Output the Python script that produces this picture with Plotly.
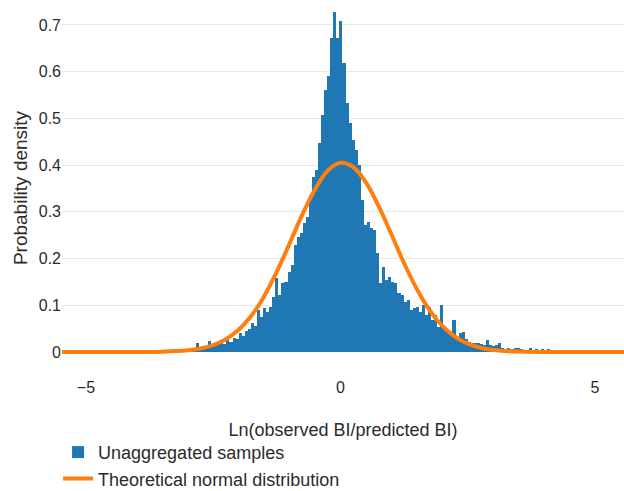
import plotly.graph_objects as go

# Histogram (density) of ln(observed/predicted)
bin_start = -3.62
bin_width = 0.06
density = [
    0.004, 0.0, 0.0, 0.0, 0.0, 0.003, 0.0, 0.0, 0.0, 0.0,
    0.002, 0.003, 0.004,
    0.019, 0.008, 0.010, 0.012, 0.024, 0.012, 0.015, 0.018, 0.020, 0.017,
    0.025, 0.022, 0.030, 0.028, 0.040, 0.034, 0.045, 0.050, 0.062, 0.055,
    0.090, 0.075, 0.094, 0.086, 0.096, 0.118, 0.158, 0.122, 0.148, 0.150,
    0.171, 0.186, 0.229, 0.246, 0.255, 0.276, 0.290, 0.336, 0.375, 0.390,
    0.447, 0.507, 0.561, 0.590, 0.672, 0.728, 0.672, 0.709, 0.619, 0.533,
    0.490, 0.454, 0.432, 0.400, 0.325, 0.272, 0.278, 0.265, 0.261, 0.212,
    0.148, 0.182, 0.154, 0.161, 0.150, 0.148, 0.126, 0.122, 0.107, 0.111,
    0.090, 0.094, 0.096, 0.086, 0.100, 0.079, 0.096, 0.069, 0.079, 0.054,
    0.100, 0.054, 0.043, 0.040, 0.069, 0.032, 0.040, 0.043, 0.028, 0.022,
    0.019, 0.020, 0.019, 0.017, 0.014, 0.026, 0.015, 0.013, 0.015, 0.019,
    0.008, 0.006, 0.008, 0.007, 0.009, 0.009, 0.006, 0.005, 0.004, 0.008,
    0.004, 0.006, 0.005, 0.006, 0.004, 0.006,
]
bin_centers = [bin_start + bin_width * (i + 0.5) for i in range(len(density))]

# Theoretical normal curve
curve_x = [-5.5, -4.5, -4.0, -3.5, -3.0, -2.75, -2.5, -2.25, -2.0, -1.75, -1.5,
           -1.25, -1.0, -0.75, -0.5, -0.25, 0.0, 0.25, 0.5, 0.75, 1.0, 1.25,
           1.5, 1.75, 2.0, 2.25, 2.5, 2.75, 3.0, 3.5, 4.0, 4.5, 5.6]
curve_y = [0.0, 0.0, 0.0001, 0.0006, 0.0035, 0.0073, 0.0146, 0.0272, 0.0474,
           0.0776, 0.119, 0.172, 0.232, 0.294, 0.348, 0.388, 0.405, 0.396,
           0.363, 0.312, 0.252, 0.190, 0.135, 0.0897, 0.0559, 0.0326, 0.0179,
           0.0092, 0.0044, 0.0008, 0.0001, 0.0, 0.0]

x_ticks = [-5, 0, 5]
y_ticks = [0, 0.1, 0.2, 0.3, 0.4, 0.5, 0.6, 0.7]
y_tick_text = ["0", "0.1", "0.2", "0.3", "0.4", "0.5", "0.6", "0.7"]

FAM = "Liberation Sans, Arial, sans-serif"

fig = go.Figure()
fig.add_trace(go.Bar(
    x=bin_centers, y=density, width=bin_width,
    marker=dict(color="#1f77b4", line=dict(width=0)),
    name="Unaggregated samples",
))
fig.add_trace(go.Scatter(
    x=curve_x, y=curve_y, mode="lines", line_shape="spline",
    line=dict(color="#ff7f0e", width=4),
    name="Theoretical normal distribution",
))

fig.update_layout(
    width=624, height=491,
    margin=dict(l=62, r=0, t=0, b=115, autoexpand=False),
    paper_bgcolor="white", plot_bgcolor="white",
    font=dict(family=FAM, size=16, color="#2b2b2b"),
    bargap=0, showlegend=True,
    legend=dict(orientation="v", x=-0.007, xanchor="left", y=-0.154, yanchor="top",
                font=dict(family=FAM, size=18), bgcolor="rgba(0,0,0,0)"),
    xaxis=dict(range=[-5.47, 5.57], tickvals=x_ticks, showgrid=False, zeroline=False,
               showline=False, ticks="", automargin=False,
               tickfont=dict(family=FAM, size=16),
               title=dict(text="Ln(observed BI/predicted BI)", standoff=28,
                          font=dict(family=FAM, size=18))),
    yaxis=dict(range=[-0.0514, 0.7535], tickvals=y_ticks, ticktext=y_tick_text,
               showgrid=True, gridcolor="#e8e8e8", zeroline=False, showline=False, ticks="",
               automargin=False,
               tickfont=dict(family=FAM, size=16),
               title=dict(text="Probability density", standoff=6,
                          font=dict(family=FAM, size=19))),
)

fig.write_html("out.html")
